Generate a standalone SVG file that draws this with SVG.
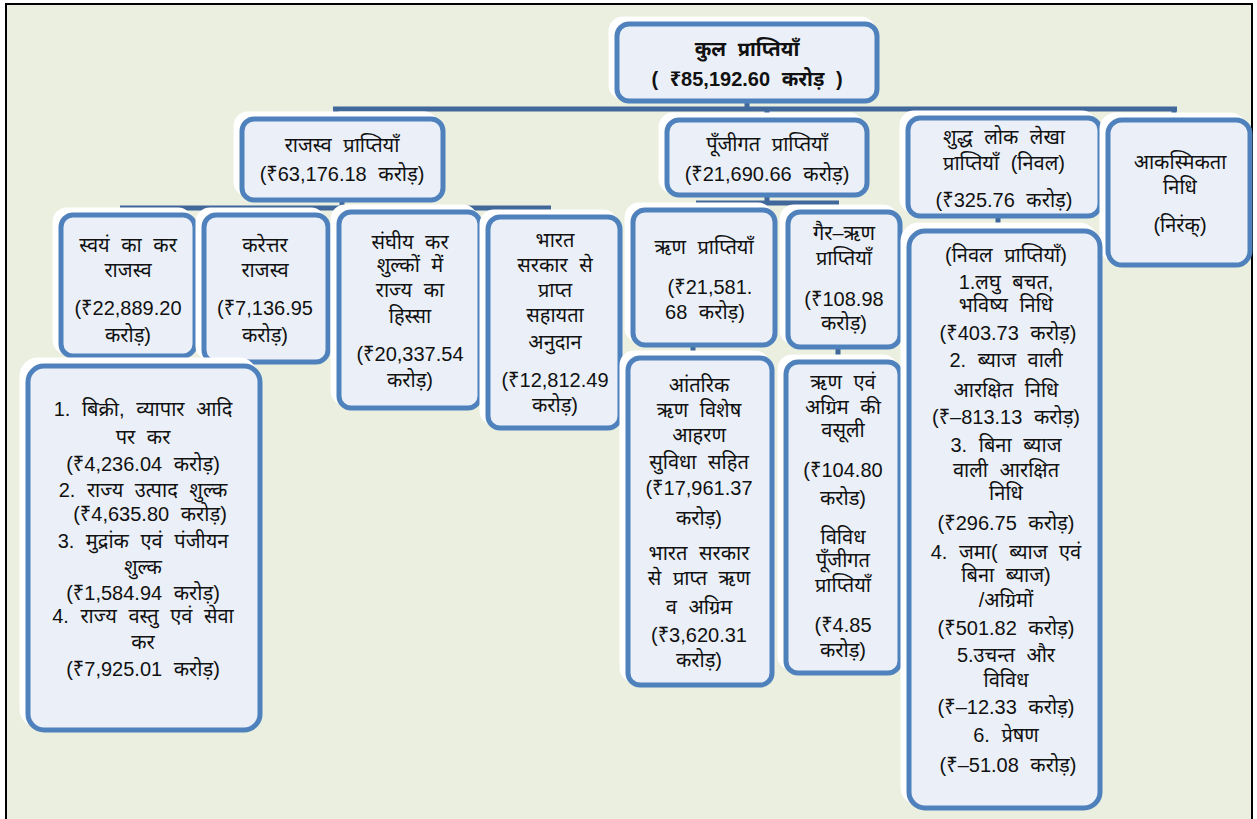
<svg xmlns="http://www.w3.org/2000/svg" width="1257" height="819" viewBox="0 0 1257 819">
<style>
.halo{fill:#ffffff;stroke:#ffffff;stroke-width:5}
.box{fill:#ebf0f8;stroke:#4f81bd;stroke-width:5}
.t{font-family:"Liberation Sans","Noto Sans",sans-serif;font-size:20px;word-spacing:6px;fill:#111;text-anchor:middle}
.b{font-weight:bold;font-size:20px}
.c{fill:none;stroke:#41689b;stroke-width:5;stroke-linecap:butt}
</style>
<rect x="0" y="0" width="1257" height="819" fill="#ffffff"/>
<rect x="6" y="4" width="1246" height="830" fill="#eaefdf" stroke="#000" stroke-width="2"/>

<g id="connectors">
<path class="c" d="M747,100 V109 M333,109 H1177 M336,109 V121 M767,109 V121 M1000,109 V121 M1174,109 V121"/>
<path class="c" d="M342,198 V208 M120,208 H551 M123,208 V216 M265,208 V216 M412,208 V213 M548,208 V218"/>
<path class="c" d="M767,193 V203 M696,203 H839 M699,203 V211 M836,203 V212"/>
<path class="c" d="M127,355 V367"/>
<path class="c" d="M693,343 V359"/>
<path class="c" d="M838,345 V363"/>
<path class="c" d="M998,215 V231"/>
</g>

<g id="root">
<rect class="halo" x="611" y="19" width="262" height="78" rx="12"/>
<rect class="box" x="617" y="24" width="260" height="77" rx="12"/>
<text class="t b" x="747" y="56">कुल प्राप्तियाँ</text>
<text class="t b" x="747" y="86">( ₹85,192.60 करोड़ )</text>
</g>

<g id="revenue">
<rect class="halo" x="236" y="114" width="200" height="80" rx="12"/>
<rect class="box" x="242" y="119" width="201" height="81" rx="12"/>
<text class="t" x="342" y="152">राजस्व प्राप्तियाँ</text>
<text class="t" x="342" y="181">(₹63,176.18 करोड़)</text>
</g>

<g id="capital">
<rect class="halo" x="661" y="115" width="200" height="76" rx="12"/>
<rect class="box" x="667" y="120" width="200" height="75" rx="12"/>
<text class="t" x="767" y="151">पूँजीगत प्राप्तियाँ</text>
<text class="t" x="767" y="181">(₹21,690.66 करोड़)</text>
</g>

<g id="public-account">
<rect class="halo" x="902" y="113" width="192" height="98" rx="12"/>
<rect class="box" x="908" y="118" width="192" height="98" rx="12"/>
<text class="t" x="1004" y="144">शुद्ध लोक लेखा</text>
<text class="t" x="1004" y="170">प्राप्तियाँ (निवल)</text>
<text class="t" x="1004" y="207">(₹325.76 करोड़)</text>
</g>

<g id="contingency">
<rect class="halo" x="1102" y="115" width="142" height="145" rx="14"/>
<rect class="box" x="1108" y="120" width="142" height="145" rx="14"/>
<text class="t" x="1180" y="169">आकस्मिकता</text>
<text class="t" x="1180" y="194">निधि</text>
<text class="t" x="1180" y="232">(निरंक्)</text>
</g>

<g id="own-tax">
<rect class="halo" x="55" y="210" width="135" height="142" rx="12"/>
<rect class="box" x="61" y="215" width="134" height="141" rx="12"/>
<text class="t" x="128" y="252">स्वयं का कर</text>
<text class="t" x="128" y="277">राजस्व</text>
<text class="t" x="128" y="315">(₹22,889.20</text>
<text class="t" x="128" y="342">करोड़)</text>
</g>

<g id="non-tax">
<rect class="halo" x="198" y="210" width="125" height="148" rx="12"/>
<rect class="box" x="204" y="215" width="124" height="147" rx="12"/>
<text class="t" x="265" y="252">करेत्तर</text>
<text class="t" x="265" y="277">राजस्व</text>
<text class="t" x="265" y="315">(₹7,136.95</text>
<text class="t" x="265" y="342">करोड़)</text>
</g>

<g id="central-share">
<rect class="halo" x="333" y="207" width="142" height="196" rx="12"/>
<rect class="box" x="339" y="212" width="141" height="196" rx="12"/>
<text class="t" x="410" y="249">संघीय कर</text>
<text class="t" x="410" y="272">शुल्कों में</text>
<text class="t" x="410" y="297">राज्य का</text>
<text class="t" x="410" y="323">हिस्सा</text>
<text class="t" x="410" y="361">(₹20,337.54</text>
<text class="t" x="410" y="387">करोड़)</text>
</g>

<g id="grants">
<rect class="halo" x="482" y="212" width="133" height="211" rx="12"/>
<rect class="box" x="488" y="217" width="132" height="211" rx="12"/>
<text class="t" x="555" y="247">भारत</text>
<text class="t" x="555" y="272">सरकार से</text>
<text class="t" x="555" y="297">प्राप्त</text>
<text class="t" x="555" y="322">सहायता</text>
<text class="t" x="555" y="349">अनुदान</text>
<text class="t" x="555" y="387">(₹12,812.49</text>
<text class="t" x="555" y="412">करोड़)</text>
</g>

<g id="debt">
<rect class="halo" x="627" y="205" width="143" height="135" rx="12"/>
<rect class="box" x="633" y="210" width="142" height="135" rx="12"/>
<text class="t" x="704" y="254">ऋण प्राप्तियाँ</text>
<text class="t" x="710" y="294">(₹21,581.</text>
<text class="t" x="705" y="319">68 करोड़)</text>
</g>

<g id="non-debt">
<rect class="halo" x="782" y="207" width="113" height="135" rx="12"/>
<rect class="box" x="788" y="212" width="112" height="135" rx="12"/>
<text class="t" x="844" y="240">गैर–ऋण</text>
<text class="t" x="844" y="265">प्राप्तियाँ</text>
<text class="t" x="844" y="306">(₹108.98</text>
<text class="t" x="844" y="330">करोड़)</text>
</g>

<g id="own-tax-items">
<rect class="halo" x="22" y="360" width="233" height="365" rx="16"/>
<rect class="box" x="28" y="366" width="232" height="364" rx="16"/>
<text class="t" x="143" y="416">1. बिक्री, व्यापार आदि</text>
<text class="t" x="143" y="444">पर कर</text>
<text class="t" x="143" y="471">(₹4,236.04 करोड़)</text>
<text class="t" x="143" y="497">2. राज्य उत्पाद शुल्क</text>
<text class="t" x="150" y="521">(₹4,635.80 करोड़)</text>
<text class="t" x="143" y="548">3. मुद्रांक एवं पंजीयन</text>
<text class="t" x="143" y="574">शुल्क</text>
<text class="t" x="143" y="600">(₹1,584.94 करोड़)</text>
<text class="t" x="143" y="623">4. राज्य वस्तु एवं सेवा</text>
<text class="t" x="143" y="649">कर</text>
<text class="t" x="143" y="676">(₹7,925.01 करोड़)</text>
</g>

<g id="debt-items">
<rect class="halo" x="622" y="353" width="145" height="327" rx="12"/>
<rect class="box" x="628" y="358" width="144" height="327" rx="12"/>
<text class="t" x="699" y="392">आंतरिक</text>
<text class="t" x="699" y="417">ऋण विशेष</text>
<text class="t" x="699" y="442">आहरण</text>
<text class="t" x="699" y="469">सुविधा सहित</text>
<text class="t" x="699" y="495">(₹17,961.37</text>
<text class="t" x="699" y="525">करोड़)</text>
<text class="t" x="699" y="560">भारत सरकार</text>
<text class="t" x="699" y="585">से प्राप्त ऋण</text>
<text class="t" x="699" y="614">व अग्रिम</text>
<text class="t" x="699" y="642">(₹3,620.31</text>
<text class="t" x="699" y="667">करोड़)</text>
</g>

<g id="non-debt-items">
<rect class="halo" x="780" y="357" width="115" height="311" rx="12"/>
<rect class="box" x="786" y="362" width="114" height="311" rx="12"/>
<text class="t" x="843" y="389">ऋण एवं</text>
<text class="t" x="843" y="414">अग्रिम की</text>
<text class="t" x="843" y="437">वसूली</text>
<text class="t" x="843" y="477">(₹104.80</text>
<text class="t" x="843" y="505">करोड)</text>
<text class="t" x="843" y="544">विविध</text>
<text class="t" x="843" y="567">पूँजीगत</text>
<text class="t" x="843" y="592">प्राप्तियाँ</text>
<text class="t" x="843" y="632">(₹4.85</text>
<text class="t" x="843" y="657">करोड़)</text>
</g>

<g id="public-account-items">
<rect class="halo" x="903" y="225" width="192" height="578" rx="16"/>
<rect class="box" x="909" y="231" width="191" height="577" rx="16"/>
<text class="t" x="1006" y="262">(निवल प्राप्तियाँ)</text>
<text class="t" x="1006" y="289">1.लघु बचत,</text>
<text class="t" x="1006" y="312">भविष्य निधि</text>
<text class="t" x="1008" y="340">(₹403.73 करोड़)</text>
<text class="t" x="1006" y="367">2. ब्याज वाली</text>
<text class="t" x="1006" y="397">आरक्षित निधि</text>
<text class="t" x="1006" y="424">(₹–813.13 करोड़)</text>
<text class="t" x="1006" y="452">3. बिना ब्याज</text>
<text class="t" x="1006" y="477">वाली आरक्षित</text>
<text class="t" x="1006" y="500">निधि</text>
<text class="t" x="1006" y="530">(₹296.75 करोड़)</text>
<text class="t" x="1006" y="559">4. जमा( ब्याज एवं</text>
<text class="t" x="1006" y="582">बिना ब्याज)</text>
<text class="t" x="1006" y="607">/अग्रिमों</text>
<text class="t" x="1006" y="635">(₹501.82 करोड़)</text>
<text class="t" x="1006" y="662">5.उचन्त और</text>
<text class="t" x="1006" y="687">विविध</text>
<text class="t" x="1006" y="714">(₹–12.33 करोड़)</text>
<text class="t" x="1006" y="742">6. प्रेषण</text>
<text class="t" x="1008" y="772">(₹–51.08 करोड़)</text>
</g>
</svg>
